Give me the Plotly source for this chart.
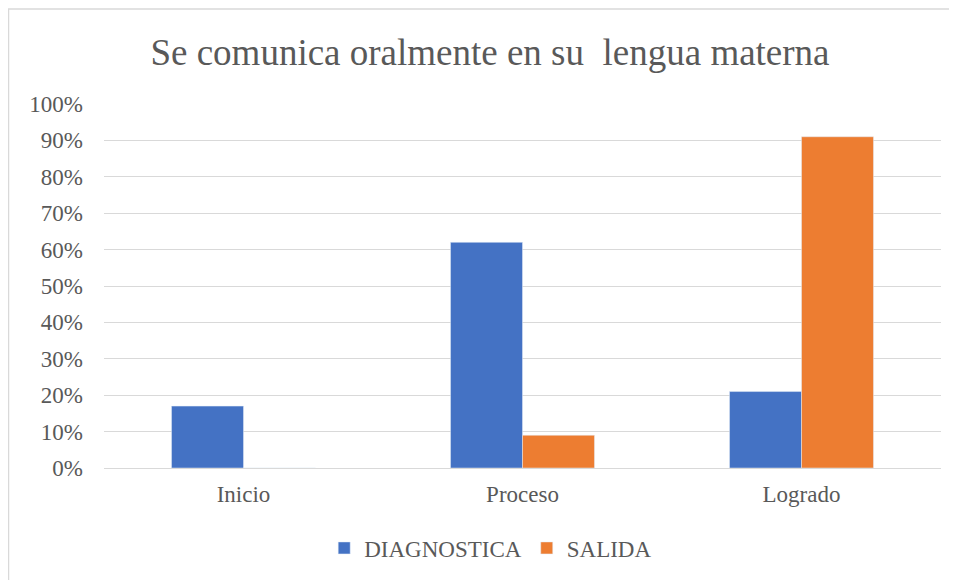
import plotly.graph_objects as go

categories = ["Inicio", "Proceso", "Logrado"]
diagnostica = [0.17, 0.62, 0.21]
salida = [0.0, 0.09, 0.91]
tick_vals = [i / 10 for i in range(11)]
tick_text = [f"{i*10}%" for i in range(11)]

SERIF = "Liberation Serif, Times New Roman, serif"
GRAY = "#595959"

# page body has an 8px margin; screen plot area is x 104..941, y 104..468
OFF = 8
W, H = 957, 580
L, R, T, B = 104 - OFF, 24, 104 - OFF, 120
pw, ph = W - L - R, H - T - B

fig = go.Figure()
fig.add_trace(go.Bar(name="DIAGNOSTICA", x=categories, y=diagnostica, marker_color="#4472C4"))
fig.add_trace(go.Bar(name="SALIDA", x=categories, y=salida, marker_color="#ED7D31"))

fig.update_layout(
    width=W, height=H,
    margin=dict(l=L, r=R, t=T, b=B),
    paper_bgcolor="white", plot_bgcolor="white",
    barmode="group", bargap=0.484, bargroupgap=0,
    title=dict(text="Se comunica oralmente en su  lengua materna",
               font=dict(family=SERIF, size=37, color=GRAY),
               x=(490 - OFF) / W, xanchor="center", y=1 - (52 - OFF) / H, yanchor="middle"),
    font=dict(family=SERIF, color=GRAY, size=23),
    legend=dict(orientation="h", x=(104 + 0.462 * 837 - OFF - L) / pw, xanchor="center",
                y=(468 - 548) / ph, yanchor="middle",
                font=dict(family=SERIF, size=23, color=GRAY),
                itemwidth=30, traceorder="normal"),
    xaxis=dict(showline=True, linecolor="#D9D9D9", linewidth=1, ticks="",
               tickfont=dict(family=SERIF, size=23, color=GRAY),
               ticklabelstandoff=5),
    yaxis=dict(range=[0, 1], tickvals=tick_vals, ticktext=tick_text,
               showgrid=True, gridcolor="#D9D9D9", gridwidth=1, zeroline=False,
               tickfont=dict(family=SERIF, size=23, color=GRAY), ticks="",
               ticklabelstandoff=20),
    shapes=[dict(type="rect", xref="paper", yref="paper",
                 x0=(-L + 0.5) / pw, x1=(W + 10 - L) / pw,
                 y0=-(B + 10) / ph, y1=1 + (T - 1) / ph,
                 line=dict(color="#D9D9D9", width=1.5), layer="below")],
)

fig.write_html("out.html")
